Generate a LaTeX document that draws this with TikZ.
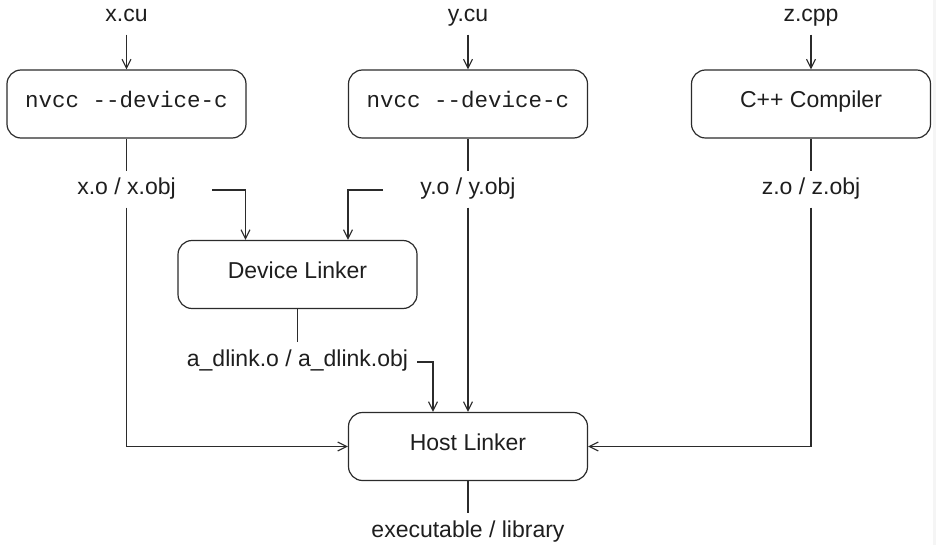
\documentclass[tikz,border=0pt]{standalone}
\usepackage{fontspec}
\setmainfont{Liberation Sans}
\setmonofont{Liberation Mono}
\usetikzlibrary{arrows.meta}
\definecolor{ink}{HTML}{1E1E1E}
\definecolor{edge}{HTML}{2B2B2B}
\begin{document}
\begin{tikzpicture}[x=1pt,y=-1pt,
  line width=1.2pt, color=edge,
  proc/.style={draw=edge, rounded corners=14pt, minimum width=239pt, minimum height=68pt,
    inner sep=0pt, text height=16pt, text depth=8pt, text=ink,
    font=\fontsize{23}{26}\selectfont},
  mono/.style={font=\fontsize{22.5}{26}\selectfont\ttfamily},
  lbl/.style={inner sep=0pt, text height=23pt, text depth=12pt, anchor=base, text=ink,
    font=\fontsize{23}{26}\selectfont},
  arr/.style={-{Straight Barb[length=9pt,width=9pt,line width=1.1pt]}}
]
\useasboundingbox (0,0) rectangle (936,545);
\fill[gray!8] (933,0) rectangle (936,545);

% top inputs
\node[lbl] (xcu) at (126.5,22) {x.cu};
\node[lbl] (ycu) at (468,22) {y.cu};
\node[lbl] (zcpp) at (811,22) {z.cpp};

% compile boxes
\node[proc, mono] (b1) at (126.5,104) {nvcc --device-c};
\node[proc, mono] (b2) at (468,104) {nvcc --device-c};
\node[proc] (b3) at (811,104) {C++ Compiler};

% object labels
\node[lbl] (xo) at (126.5,195) {x.o / x.obj};
\node[lbl] (yo) at (468,195) {y.o / y.obj};
\node[lbl] (zo) at (811,195) {z.o / z.obj};

% device linker
\node[proc] (dev) at (297.5,274.5) {Device Linker};
\node[lbl] (ad) at (297.5,366) {a\_dlink.o / a\_dlink.obj};

% host linker
\node[proc] (host) at (468,446.5) {Host Linker};
\node[lbl] (exe) at (468,537) {executable / library};

% free ends
\coordinate (xd) at (212,190);
\coordinate (yd) at (383,190);
\coordinate (add) at (417,362);

% connectors
\draw[arr] (xcu.south) -- (b1.north);
\draw[arr] (ycu.south) -- (b2.north);
\draw[arr] (zcpp.south) -- (b3.north);

\draw (b1.south) -- (xo.north);
\draw (b2.south) -- (yo.north);
\draw (b3.south) -- (zo.north);

\draw[arr] (xd) -| ([xshift=-52pt]dev.north);
\draw[arr] (yd) -| ([xshift=50.5pt]dev.north);

\draw[arr] (xo.south) |- (host.west);
\draw[arr] (yo.south) -- (host.north);
\draw[arr] (zo.south) |- (host.east);

\draw (dev.south) -- (ad.north);
\draw[arr] (add) -| ([xshift=-35pt]host.north);

\draw (host.south) -- (exe.north);
\end{tikzpicture}
\end{document}
